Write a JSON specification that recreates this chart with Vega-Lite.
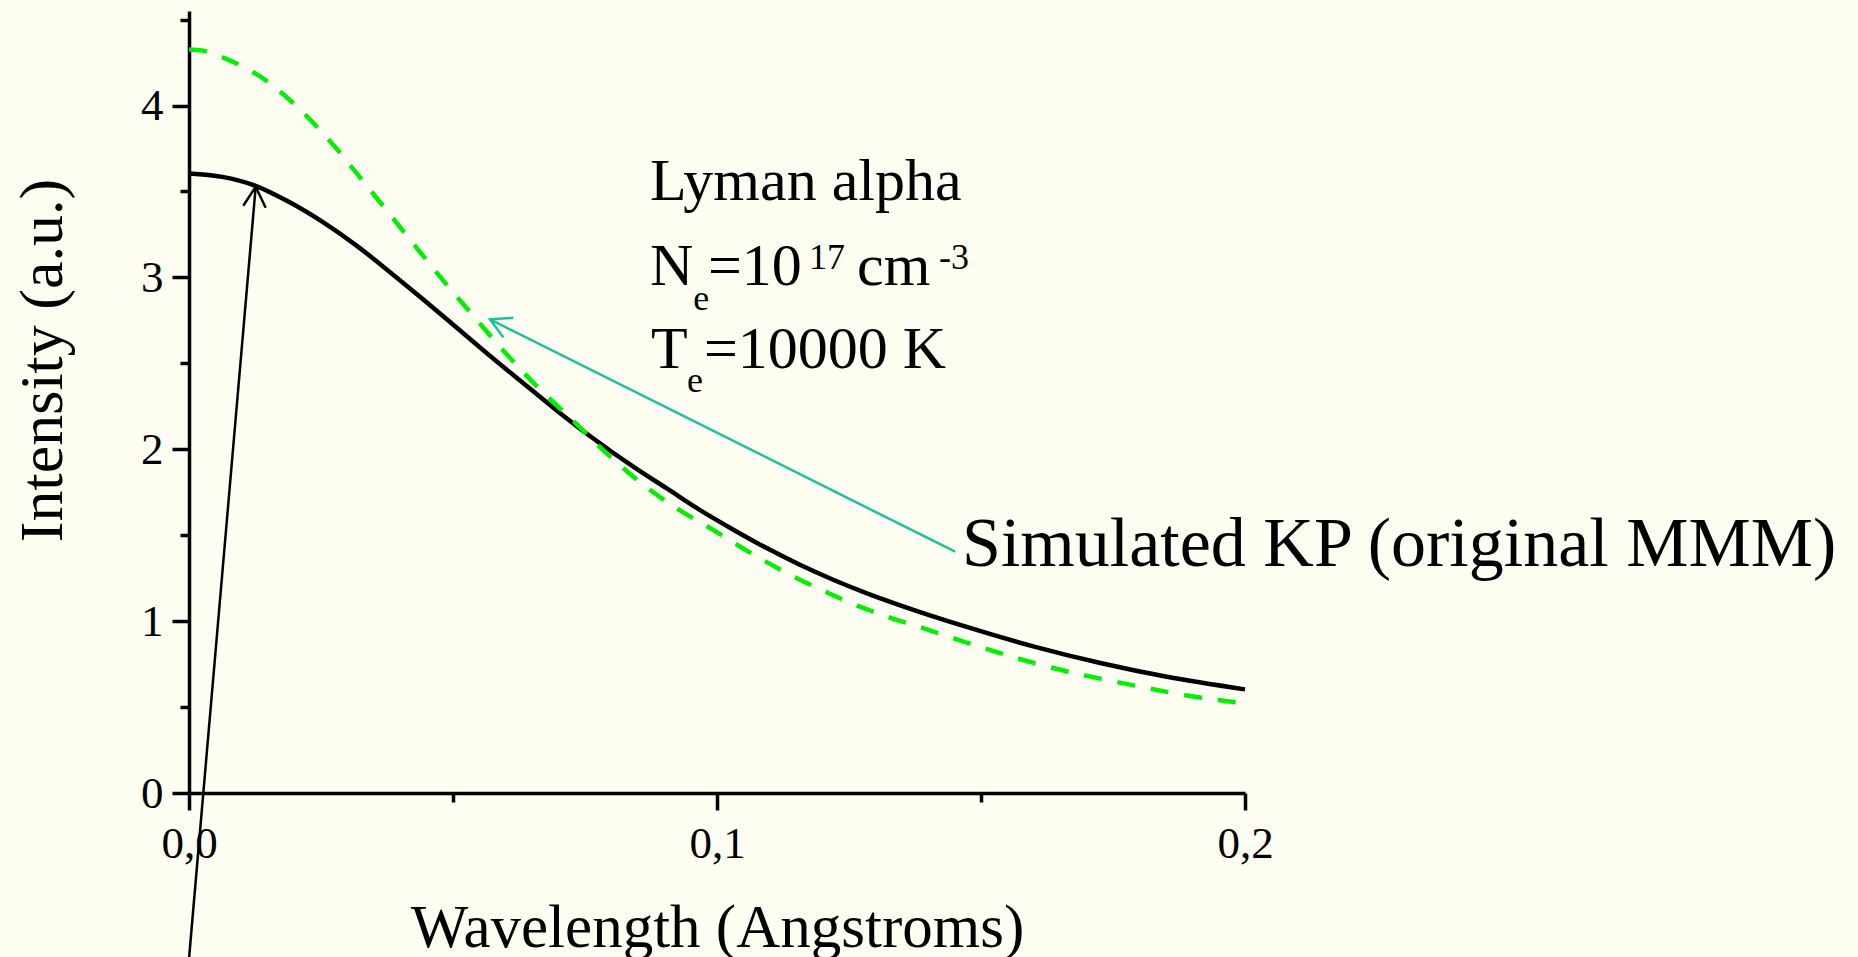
{
  "$schema": "https://vega.github.io/schema/vega-lite/v6.json",
  "width": 1056,
  "height": 782,
  "autosize": {"type": "none"},
  "padding": {"left": 189, "top": 11, "right": 613, "bottom": 164},
  "background": "#fdfdf2",
  "config": {"view": {"stroke": null}, "font": "Liberation Serif"},
  "datasets": {
    "curves": [
      {"series": "sim", "x": 0, "y": 3.605},
      {"series": "sim", "x": 0.0063, "y": 3.585},
      {"series": "sim", "x": 0.0126, "y": 3.533},
      {"series": "sim", "x": 0.0189, "y": 3.44},
      {"series": "sim", "x": 0.0253, "y": 3.323},
      {"series": "sim", "x": 0.0316, "y": 3.188},
      {"series": "sim", "x": 0.0379, "y": 3.035},
      {"series": "sim", "x": 0.0442, "y": 2.876},
      {"series": "sim", "x": 0.0505, "y": 2.713},
      {"series": "sim", "x": 0.0568, "y": 2.549},
      {"series": "sim", "x": 0.0631, "y": 2.39},
      {"series": "sim", "x": 0.0694, "y": 2.232},
      {"series": "sim", "x": 0.0758, "y": 2.08},
      {"series": "sim", "x": 0.0842, "y": 1.897},
      {"series": "sim", "x": 0.0905, "y": 1.772},
      {"series": "sim", "x": 0.0968, "y": 1.646},
      {"series": "sim", "x": 0.1031, "y": 1.532},
      {"series": "sim", "x": 0.1094, "y": 1.425},
      {"series": "sim", "x": 0.1157, "y": 1.328},
      {"series": "sim", "x": 0.122, "y": 1.241},
      {"series": "sim", "x": 0.1284, "y": 1.162},
      {"series": "sim", "x": 0.1347, "y": 1.092},
      {"series": "sim", "x": 0.1473, "y": 0.966},
      {"series": "sim", "x": 0.1599, "y": 0.853},
      {"series": "sim", "x": 0.1726, "y": 0.756},
      {"series": "sim", "x": 0.1852, "y": 0.676},
      {"series": "sim", "x": 0.2, "y": 0.603},
      {"series": "mmm", "x": 0, "y": 4.326},
      {"series": "mmm", "x": 0.0025, "y": 4.32},
      {"series": "mmm", "x": 0.0076, "y": 4.264},
      {"series": "mmm", "x": 0.0145, "y": 4.148},
      {"series": "mmm", "x": 0.0208, "y": 3.983},
      {"series": "mmm", "x": 0.0271, "y": 3.779},
      {"series": "mmm", "x": 0.0328, "y": 3.566},
      {"series": "mmm", "x": 0.0379, "y": 3.372},
      {"series": "mmm", "x": 0.0432, "y": 3.169},
      {"series": "mmm", "x": 0.0486, "y": 2.965},
      {"series": "mmm", "x": 0.054, "y": 2.771},
      {"series": "mmm", "x": 0.06, "y": 2.558},
      {"series": "mmm", "x": 0.0663, "y": 2.354},
      {"series": "mmm", "x": 0.0726, "y": 2.17},
      {"series": "mmm", "x": 0.0797, "y": 1.96},
      {"series": "mmm", "x": 0.0861, "y": 1.792},
      {"series": "mmm", "x": 0.0924, "y": 1.656},
      {"series": "mmm", "x": 0.0993, "y": 1.53},
      {"series": "mmm", "x": 0.106, "y": 1.404},
      {"series": "mmm", "x": 0.1126, "y": 1.29},
      {"series": "mmm", "x": 0.1192, "y": 1.19},
      {"series": "mmm", "x": 0.1258, "y": 1.1},
      {"series": "mmm", "x": 0.1321, "y": 1.028},
      {"series": "mmm", "x": 0.1385, "y": 0.965},
      {"series": "mmm", "x": 0.1504, "y": 0.844},
      {"series": "mmm", "x": 0.1637, "y": 0.727},
      {"series": "mmm", "x": 0.177, "y": 0.638},
      {"series": "mmm", "x": 0.1902, "y": 0.562},
      {"series": "mmm", "x": 0.2, "y": 0.522}
    ],
    "arrows": [
      {"arrow": "black", "part": "b_shaft", "i": 0, "x": -0.0001, "y": -1.0},
      {"arrow": "black", "part": "b_shaft", "i": 1, "x": 0.01263, "y": 3.527},
      {"arrow": "black", "part": "b_head", "i": 0, "x": 0.01028, "y": 3.417},
      {"arrow": "black", "part": "b_head", "i": 1, "x": 0.01263, "y": 3.527},
      {"arrow": "black", "part": "b_head", "i": 2, "x": 0.01452, "y": 3.405},
      {"arrow": "teal", "part": "t_shaft", "i": 0, "x": 0.1451, "y": 1.404},
      {"arrow": "teal", "part": "t_shaft", "i": 1, "x": 0.05701, "y": 2.756},
      {"arrow": "teal", "part": "t_head", "i": 0, "x": 0.06142, "y": 2.765},
      {"arrow": "teal", "part": "t_head", "i": 1, "x": 0.05701, "y": 2.756},
      {"arrow": "teal", "part": "t_head", "i": 2, "x": 0.05953, "y": 2.651}
    ],
    "labels": [
      {"role": "main", "text": "Lyman alpha", "x": 0.08731, "y": 3.45},
      {"role": "main", "text": "N", "x": 0.08731, "y": 2.955},
      {"role": "main", "text": "=10", "x": 0.0983, "y": 2.955},
      {"role": "main", "text": "cm", "x": 0.12652, "y": 2.955},
      {"role": "main", "text": "T", "x": 0.0875, "y": 2.4724},
      {"role": "main", "text": "=10000 K", "x": 0.09754, "y": 2.4724},
      {"role": "small", "text": "e", "x": 0.0955, "y": 2.8098},
      {"role": "small", "text": "17", "x": 0.11742, "y": 3.048},
      {"role": "small", "text": "-3", "x": 0.14205, "y": 3.048},
      {"role": "small", "text": "e", "x": 0.09432, "y": 2.3328},
      {"role": "big", "text": "Simulated KP (original MMM)", "x": 0.1464, "y": 1.3205}
    ]
  },
  "layer": [
    {
      "data": {"name": "curves"},
      "transform": [{"filter": "datum.series == 'sim'"}],
      "mark": {"type": "line", "color": "black", "strokeWidth": 4.5, "interpolate": "monotone"},
      "encoding": {
        "x": {
          "field": "x", "type": "quantitative",
          "scale": {"domain": [0, 0.2], "nice": false, "zero": false},
          "axis": {
            "values": [0, 0.05, 0.1, 0.15, 0.2],
            "grid": false,
            "domainColor": "black", "domainWidth": 3.5,
            "tickColor": "black", "tickWidth": 3.5,
            "tickSize": {"condition": {"test": "round(datum.value*20) % 2 == 0", "value": 17}, "value": 9},
            "labelExpr": "round(datum.value*20) % 2 == 0 ? replace(format(datum.value, '.1f'), '.', ',') : ''",
            "labelFont": "Liberation Serif", "labelFontSize": 45, "labelColor": "black",
            "labelFlush": false, "labelOverlap": false, "labelBound": false,
            "labelBaseline": "alphabetic", "labelPadding": 47,
            "title": "Wavelength (Angstroms)",
            "titleFont": "Liberation Serif", "titleFontSize": 61, "titleFontWeight": "normal", "titleColor": "black",
            "titleX": 528, "titleY": 153, "titleBaseline": "alphabetic", "titleAlign": "center"
          }
        },
        "y": {
          "field": "y", "type": "quantitative",
          "scale": {"domain": [0, 4.55], "nice": false, "zero": false},
          "axis": {
            "values": [0, 0.5, 1, 1.5, 2, 2.5, 3, 3.5, 4, 4.5],
            "grid": false,
            "domainColor": "black", "domainWidth": 3.5,
            "tickColor": "black", "tickWidth": 3.5,
            "tickSize": {"condition": {"test": "datum.value % 1 == 0", "value": 17}, "value": 9},
            "labelExpr": "datum.value % 1 == 0 ? format(datum.value, 'd') : ''",
            "labelFont": "Liberation Serif", "labelFontSize": 45, "labelColor": "black",
            "labelFlush": false, "labelOverlap": false, "labelBound": false,
            "labelBaseline": "middle", "labelPadding": 9,
            "title": "Intensity (a.u.)",
            "titleFont": "Liberation Serif", "titleFontSize": 62, "titleFontWeight": "normal", "titleColor": "black",
            "titleX": -128, "titleY": 349, "titleAngle": -90, "titleBaseline": "alphabetic", "titleAlign": "center"
          }
        }
      }
    },
    {
      "data": {"name": "curves"},
      "transform": [{"filter": "datum.series == 'mmm'"}],
      "mark": {"type": "line", "color": "#00f000", "strokeWidth": 4.5, "strokeDash": [18, 16], "interpolate": "monotone"},
      "encoding": {
        "x": {"field": "x", "type": "quantitative", "scale": {"domain": [0, 0.2], "nice": false, "zero": false}},
        "y": {"field": "y", "type": "quantitative", "scale": {"domain": [0, 4.55], "nice": false, "zero": false}}
      }
    },
    {
      "data": {"name": "arrows"},
      "transform": [{"filter": "datum.arrow == 'black'"}],
      "mark": {"type": "line", "color": "black", "strokeWidth": 2.5, "clip": false},
      "encoding": {
        "x": {"field": "x", "type": "quantitative", "scale": {"domain": [0, 0.2], "nice": false, "zero": false}},
        "y": {"field": "y", "type": "quantitative", "scale": {"domain": [0, 4.55], "nice": false, "zero": false}},
        "detail": {"field": "part"},
        "order": {"field": "i", "type": "quantitative"}
      }
    },
    {
      "data": {"name": "arrows"},
      "transform": [{"filter": "datum.arrow == 'teal'"}],
      "mark": {"type": "line", "color": "#1dbf9f", "strokeWidth": 2.5, "clip": false},
      "encoding": {
        "x": {"field": "x", "type": "quantitative", "scale": {"domain": [0, 0.2], "nice": false, "zero": false}},
        "y": {"field": "y", "type": "quantitative", "scale": {"domain": [0, 4.55], "nice": false, "zero": false}},
        "detail": {"field": "part"},
        "order": {"field": "i", "type": "quantitative"}
      }
    },
    {
      "data": {"name": "labels"},
      "transform": [{"filter": "datum.role == 'main'"}],
      "mark": {"type": "text", "align": "left", "baseline": "alphabetic", "font": "Liberation Serif", "fontSize": 60, "color": "black", "clip": false},
      "encoding": {
        "x": {"field": "x", "type": "quantitative", "scale": {"domain": [0, 0.2], "nice": false, "zero": false}},
        "y": {"field": "y", "type": "quantitative", "scale": {"domain": [0, 4.55], "nice": false, "zero": false}},
        "text": {"field": "text"}
      }
    },
    {
      "data": {"name": "labels"},
      "transform": [{"filter": "datum.role == 'small'"}],
      "mark": {"type": "text", "align": "left", "baseline": "alphabetic", "font": "Liberation Serif", "fontSize": 36, "color": "black", "clip": false},
      "encoding": {
        "x": {"field": "x", "type": "quantitative", "scale": {"domain": [0, 0.2], "nice": false, "zero": false}},
        "y": {"field": "y", "type": "quantitative", "scale": {"domain": [0, 4.55], "nice": false, "zero": false}},
        "text": {"field": "text"}
      }
    },
    {
      "data": {"name": "labels"},
      "transform": [{"filter": "datum.role == 'big'"}],
      "mark": {"type": "text", "align": "left", "baseline": "alphabetic", "font": "Liberation Serif", "fontSize": 70, "color": "black", "clip": false},
      "encoding": {
        "x": {"field": "x", "type": "quantitative", "scale": {"domain": [0, 0.2], "nice": false, "zero": false}},
        "y": {"field": "y", "type": "quantitative", "scale": {"domain": [0, 4.55], "nice": false, "zero": false}},
        "text": {"field": "text"}
      }
    }
  ]
}
